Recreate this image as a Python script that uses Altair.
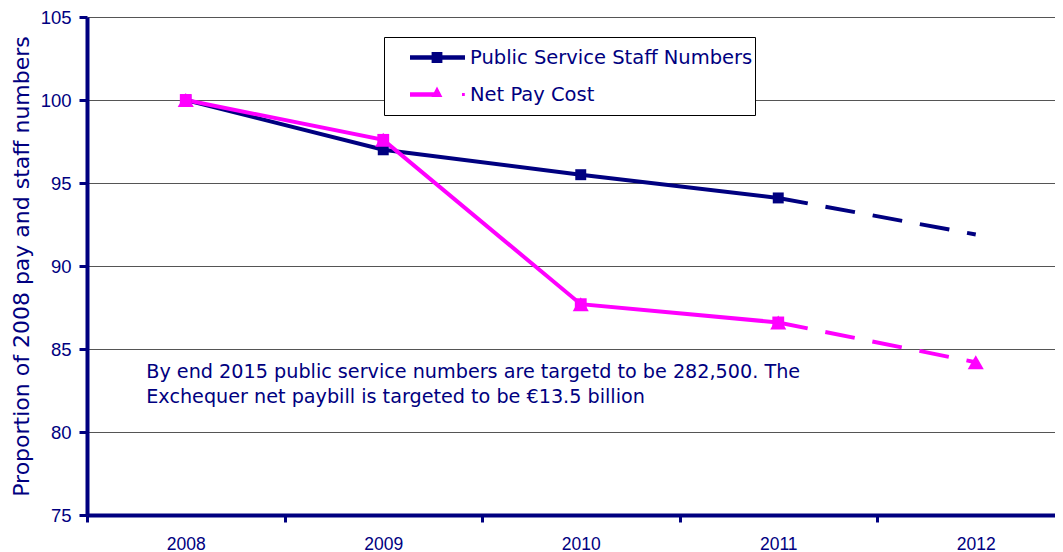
import altair as alt
import pandas as pd

years = [2008, 2009, 2010, 2011, 2012]
staff_numbers = [100.0, 97.0, 95.5, 94.1, 91.9]
net_pay_cost = [100.0, 97.6, 87.7, 86.6, 84.2]
series_names = ["Public Service Staff Numbers", "Net Pay Cost"]
last_actual_year = 2011
y_ticks = [75, 80, 85, 90, 95, 100, 105]
x_label_values = years
x_tick_values = [2007.5, 2008.5, 2009.5, 2010.5, 2011.5]
note_text = ("By end 2015 public service numbers are targetd to be 282,500. The\n"
             "Exchequer net paybill is targeted to be \u20ac13.5 billion")
note_x = 2007.8
note_y = 84.15

NAVY = "#000080"
MAGENTA = "#FF00FF"
FONT = "DejaVu Sans"

rows = []
for s, vals in zip(series_names, [staff_numbers, net_pay_cost]):
    for yr, v in zip(years, vals):
        rows.append({"series": s, "year": yr, "value": v})
df = pd.DataFrame(rows)

W, H = 968, 498
x_scale = alt.Scale(domain=[2007.5, 2007.5 + W / 197.5], nice=False, zero=False)
y_scale = alt.Scale(domain=[75, 105], nice=False, zero=False)
color_scale = alt.Scale(domain=series_names, range=[NAVY, MAGENTA])

# legend symbol paths (line + marker)
sym_staff = ("M-0.4,-0.055L0.975,-0.055L0.975,0.055L-0.4,0.055Z "
             "M0.14,-0.14L0.41,-0.14L0.41,0.14L0.14,0.14Z")
sym_pay = ("M-0.4,-0.055L0.2,-0.055L0.2,0.055L-0.4,0.055Z "
           "M0.275,-0.2L0.41,0.06L0.14,0.06Z "
           "M0.9,-0.035L0.97,-0.035L0.97,0.035L0.9,0.035Z")

y_axis = alt.Axis(values=y_ticks, title="Proportion of 2008 pay and staff numbers",
                  titleFont=FONT, titleFontSize=22, titleFontWeight="normal",
                  titleColor=NAVY, titlePadding=7,
                  labelFont="Liberation Sans", labelFontSize=18.5, labelColor=NAVY,
                  labelPadding=8, tickColor=NAVY, tickWidth=3, tickSize=8,
                  domainColor=NAVY, domainWidth=4, grid=True,
                  gridColor="#555555", gridWidth=1)

x_axis_labels = alt.Axis(values=x_label_values, format="d", title=None,
                         labelFont="Liberation Sans", labelFontSize=17.5,
                         labelColor=NAVY, labelPadding=20, ticks=False,
                         domainColor=NAVY, domainWidth=4, grid=False,
                         orient="bottom", labelOverlap=False)
x_axis_ticks = alt.Axis(values=x_tick_values, title=None, labels=False,
                        ticks=True, tickColor=NAVY, tickWidth=3, tickSize=7,
                        domain=False, grid=False, orient="bottom")

base = alt.Chart(df)

solid = base.transform_filter(alt.datum.year <= last_actual_year).mark_line(
    strokeWidth=4).encode(
    x=alt.X("year:Q", scale=x_scale, axis=x_axis_labels),
    y=alt.Y("value:Q", scale=y_scale, axis=y_axis),
    color=alt.Color("series:N", scale=color_scale, legend=None),
    detail="series:N",
)
dashed = base.transform_filter(alt.datum.year >= last_actual_year).mark_line(
    strokeWidth=4, strokeDash=[30, 18]).encode(
    x=alt.X("year:Q", scale=x_scale, axis=None),
    y=alt.Y("value:Q", scale=y_scale),
    color=alt.Color("series:N", scale=color_scale, legend=None),
    detail="series:N",
)
staff_pts = base.transform_filter(
    (alt.datum.series == series_names[0]) & (alt.datum.year <= last_actual_year)
).mark_point(shape="square", filled=True, size=120, opacity=1, color=NAVY).encode(
    x=alt.X("year:Q", scale=x_scale, axis=None),
    y=alt.Y("value:Q", scale=y_scale),
)
pay_sq = base.transform_filter(
    (alt.datum.series == series_names[1]) & (alt.datum.year <= last_actual_year)
).mark_point(shape="square", filled=True, size=140, opacity=1, color=MAGENTA).encode(
    x=alt.X("year:Q", scale=x_scale, axis=None),
    y=alt.Y("value:Q", scale=y_scale),
)
pay_tri = base.transform_filter(alt.datum.series == series_names[1]).mark_point(
    shape="triangle-up", filled=True, size=260, opacity=1, color=MAGENTA).encode(
    x=alt.X("year:Q", scale=x_scale, axis=None),
    y=alt.Y("value:Q", scale=y_scale),
)
legend_layer = base.mark_point(filled=True, opacity=0, size=10).encode(
    x=alt.X("year:Q", scale=x_scale, axis=x_axis_ticks),
    y=alt.Y("value:Q", scale=y_scale),
    color=alt.Color("series:N", scale=color_scale, legend=alt.Legend(
        title=None, orient="none", legendX=297, legendY=20,
        symbolOpacity=1, symbolSize=6400, symbolStrokeWidth=0,
        clipHeight=37, padding=2, rowPadding=0, labelOffset=4,
        labelFont=FONT, labelFontSize=19.5, labelColor=NAVY,
        labelExpr="datum.label + '\u00a0\u00a0\u00a0'",
        strokeColor="black", fillColor="white", labelLimit=500)),
    shape=alt.Shape("series:N", scale=alt.Scale(domain=series_names,
                                                range=[sym_staff, sym_pay]),
                    legend=None),
)
note = alt.Chart(pd.DataFrame({"x": [note_x], "y": [note_y], "t": [note_text]})).mark_text(
    align="left", baseline="top", font=FONT, fontSize=19.2, color=NAVY,
    lineBreak="\n", lineHeight=25).encode(
    x=alt.X("x:Q", scale=x_scale, axis=None),
    y=alt.Y("y:Q", scale=y_scale),
    text="t:N",
)

chart = alt.layer(legend_layer, solid, dashed, staff_pts, pay_sq, pay_tri, note).resolve_axis(
    x="independent").properties(
    width=W, height=H,
    autosize=alt.AutoSizeParams(type="none"),
    padding={"left": 79, "top": 9, "right": 0, "bottom": 37},
).configure_view(stroke=None).configure_axis(labelFontWeight="normal")

chart.save("out.html", embed_options={"renderer": "svg", "actions": False})
